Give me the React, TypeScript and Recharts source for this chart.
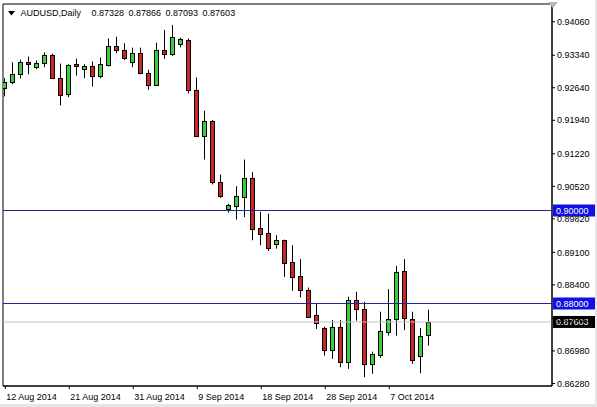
import React from 'react';
import { ComposedChart, Bar, XAxis, YAxis, ReferenceLine, ReferenceArea } from 'recharts';

const dates = [
  '2014.08.12', '2014.08.13', '2014.08.14', '2014.08.15', '2014.08.17', '2014.08.18', '2014.08.19', '2014.08.20',
  '2014.08.21', '2014.08.22', '2014.08.24', '2014.08.25', '2014.08.26', '2014.08.27', '2014.08.28', '2014.08.29',
  '2014.08.31', '2014.09.01', '2014.09.02', '2014.09.03', '2014.09.04', '2014.09.05', '2014.09.07', '2014.09.08',
  '2014.09.09', '2014.09.10', '2014.09.11', '2014.09.12', '2014.09.14', '2014.09.15', '2014.09.16', '2014.09.17',
  '2014.09.18', '2014.09.19', '2014.09.21', '2014.09.22', '2014.09.23', '2014.09.24', '2014.09.25', '2014.09.26',
  '2014.09.28', '2014.09.29', '2014.09.30', '2014.10.01', '2014.10.02', '2014.10.03', '2014.10.05', '2014.10.06',
  '2014.10.07', '2014.10.08', '2014.10.09', '2014.10.10', '2014.10.12', '2014.10.13',
];

const opens = [
  0.92624, 0.92753, 0.92946, 0.93203, 0.93081, 0.93166, 0.93346, 0.9286, 0.92495, 0.93145,
  0.93046, 0.93117, 0.92896, 0.93132, 0.93546, 0.93453, 0.93203, 0.93396, 0.92967, 0.92703,
  0.93453, 0.93359, 0.93582, 0.93674, 0.92596, 0.9161, 0.91932, 0.90616, 0.90024, 0.90089,
  0.90294, 0.90689, 0.89617, 0.8951, 0.89274, 0.89366, 0.88895, 0.88595, 0.88295, 0.87759,
  0.87474, 0.87002, 0.87502, 0.86737, 0.88074, 0.87881, 0.86702, 0.86895, 0.87395, 0.87667,
  0.88702, 0.87667, 0.86865, 0.87328,
];

const highs = [
  0.92845, 0.93188, 0.93246, 0.9331, 0.93224, 0.93396, 0.93374, 0.9316, 0.93145, 0.93267,
  0.93145, 0.93203, 0.93288, 0.93702, 0.93739, 0.93595, 0.93503, 0.93503, 0.93025, 0.9361,
  0.93882, 0.93989, 0.93717, 0.93702, 0.9286, 0.92146, 0.91945, 0.90775, 0.90144, 0.90524,
  0.91096, 0.90824, 0.89973, 0.8993, 0.89467, 0.89373, 0.89253, 0.88953, 0.88344, 0.8801,
  0.87502, 0.87645, 0.87645, 0.88145, 0.88252, 0.88038, 0.86966, 0.87823, 0.8831, 0.88809,
  0.88953, 0.87823, 0.87474, 0.87866,
];

const lows = [
  0.92453, 0.92716, 0.92838, 0.92931, 0.93038, 0.93081, 0.92838, 0.9226, 0.92438, 0.92903,
  0.92845, 0.92667, 0.92845, 0.93096, 0.93381, 0.93239, 0.93081, 0.92931, 0.92596, 0.92682,
  0.93261, 0.93325, 0.93509, 0.92517, 0.91585, 0.91096, 0.9056, 0.90273, 0.89952, 0.89806,
  0.89859, 0.8936, 0.89253, 0.89131, 0.8918, 0.88573, 0.88273, 0.8813, 0.87688, 0.87452,
  0.8688, 0.8681, 0.86629, 0.86595, 0.8763, 0.86415, 0.86488, 0.86831, 0.87309, 0.87309,
  0.87431, 0.86702, 0.86501, 0.87093,
];

const closes = [
  0.92774, 0.92946, 0.93203, 0.93145, 0.93181, 0.93346, 0.92845, 0.92474, 0.93138, 0.93111,
  0.93117, 0.92896, 0.9316, 0.93539, 0.93453, 0.93273, 0.93385, 0.92952, 0.92703, 0.93453,
  0.93368, 0.93739, 0.93681, 0.92596, 0.91595, 0.91917, 0.90616, 0.9032, 0.90117, 0.90303,
  0.90689, 0.89609, 0.89489, 0.89201, 0.8936, 0.8888, 0.8858, 0.88288, 0.87716, 0.87573,
  0.87002, 0.87502, 0.86737, 0.88074, 0.87881, 0.86702, 0.86917, 0.87416, 0.87667, 0.88681,
  0.87688, 0.86788, 0.87294, 0.87603,
];

const xTickIndexes = [0, 8, 16, 24, 32, 40, 48];
const xTickLabels = ['12 Aug 2014', '21 Aug 2014', '31 Aug 2014', '9 Sep 2014', '18 Sep 2014', '28 Sep 2014', '7 Oct 2014'];

const priceTicks = [
  0.9406, 0.9334, 0.9264, 0.9194, 0.9122, 0.9052, 0.8982, 0.891, 0.884, 0.8768, 0.8698, 0.8628,
];

const levelLines = [0.9, 0.88];
const currentPrice = 0.87603;

const symbolTitle = 'AUDUSD,Daily';
const ohlcTitle = ['0.87328', '0.87866', '0.87093', '0.87603'];

const X_DOMAIN: [number, number] = [-0.2875, 68.3375];
const Y_DOMAIN: [number, number] = [0.862258, 0.944409];

const FONT = '"Liberation Sans", Arial, sans-serif';
const UP = '#3ccf3c';
const DOWN = '#cc2424';

const data = dates.map((d, i) => ({
  i,
  date: d,
  open: opens[i],
  high: highs[i],
  low: lows[i],
  close: closes[i],
  range: [lows[i], highs[i]],
}));

const Candle = (props: any) => {
  const { x, y, width, height, payload } = props;
  if (payload == null || height == null) return null;
  const { open, close, high, low } = payload;
  const c = Math.round(x + width / 2 - 0.5);
  const span = high - low || 1e-9;
  const py = (p: number) => y + ((high - p) / span) * height;
  const up = close >= open;
  const top = Math.round(py(Math.max(open, close)));
  const bot = Math.round(py(Math.min(open, close)));
  const h = Math.max(bot - top, 1);
  return (
    <g>
      <line x1={c + 0.5} x2={c + 0.5} y1={y} y2={y + height} stroke="#000" strokeWidth={1} />
      <rect x={c - 1.5} y={top + 0.5} width={4} height={h} fill={up ? UP : DOWN} stroke="#000" strokeWidth={1} />
    </g>
  );
};

const XTick = (props: any) => {
  const { x, y, payload } = props;
  const idx = xTickIndexes.indexOf(payload.value);
  return (
    <text x={x + 1} y={y + 9} textAnchor="start" fontFamily={FONT} fontSize={9} fill="#000">
      {idx >= 0 ? xTickLabels[idx] : ''}
    </text>
  );
};

const PriceLabel = (props: any) => {
  const { viewBox, text, bg } = props;
  if (!viewBox) return null;
  const bx = viewBox.x + viewBox.width + 1;
  const by = viewBox.y;
  return (
    <g>
      <rect x={bx} y={by - 6} width={42} height={12} fill={bg} />
      <text x={bx + 3} y={by + 3.5} fontFamily={FONT} fontSize={9} fill="#fff" textAnchor="start">
        {text}
      </text>
    </g>
  );
};

export default function App() {
  return (
    <div style={{ position: 'absolute', left: 0, top: 0, width: 597, height: 407, background: '#fff', overflow: 'hidden' }}>
      <ComposedChart width={597} height={407} data={data} margin={{ top: 4, right: 0, bottom: 0, left: 3 }}>
        <XAxis
          dataKey="i"
          type="number"
          domain={X_DOMAIN}
          allowDataOverflow
          ticks={xTickIndexes}
          interval={0}
          height={21}
          tickSize={3}
          tickLine={{ stroke: '#000' }}
          axisLine={{ stroke: '#000' }}
          tick={<XTick />}
        />
        <YAxis
          orientation="right"
          type="number"
          domain={Y_DOMAIN}
          allowDataOverflow
          ticks={priceTicks}
          interval={0}
          width={45}
          tickSize={3}
          tickMargin={2}
          tickLine={{ stroke: '#000' }}
          axisLine={{ stroke: '#000' }}
          tickFormatter={(v: number) => v.toFixed(5)}
          tick={{ fontFamily: FONT, fontSize: 9, fill: '#000', textAnchor: 'start' }}
        />
        <ReferenceArea x1={X_DOMAIN[0]} x2={X_DOMAIN[1]} y1={Y_DOMAIN[0]} y2={Y_DOMAIN[1]} fill="none" stroke="#000" strokeWidth={1} fillOpacity={0} />
        <ReferenceLine
          y={currentPrice}
          stroke="#c0c0c0"
          strokeWidth={1}
          label={(p: any) => <PriceLabel {...p} text={currentPrice.toFixed(5)} bg="#000" />}
        />
        {levelLines.map((lv) => (
          <ReferenceLine
            key={lv}
            y={lv}
            stroke="#2424a0"
            strokeWidth={1}
            label={(p: any) => <PriceLabel {...p} text={lv.toFixed(5)} bg="#1010e0" />}
          />
        ))}
        <Bar dataKey="range" barSize={5} shape={<Candle />} isAnimationActive={false} />
      </ComposedChart>
      <div style={{ position: 'absolute', left: 8, top: 7, fontFamily: FONT, fontSize: 9, color: '#000', lineHeight: '12px', whiteSpace: 'nowrap' }}>
        <svg width={7} height={5} style={{ position: 'absolute', left: 0, top: 4 }}>
          <polygon points="0,0 7,0 3.5,4.5" fill="#000" />
        </svg>
        <span style={{ position: 'absolute', left: 12.5, top: 0 }}>{symbolTitle}</span>
        <span style={{ position: 'absolute', left: 83.5, top: 0, wordSpacing: 2 }}>{ohlcTitle.join(' ')}</span>
      </div>
      <svg width={10} height={8} style={{ position: 'absolute', left: 548, top: 2 }}>
        <polygon points="0,0 10,0 5,6" fill="#b8b8b8" />
      </svg>
      <div style={{ position: 'absolute', left: 0, top: 404, width: 597, height: 3, background: '#e6e6e6' }} />
      <div style={{ position: 'absolute', left: 595, top: 0, width: 2, height: 407, background: '#e6e6e6' }} />
    </div>
  );
}
